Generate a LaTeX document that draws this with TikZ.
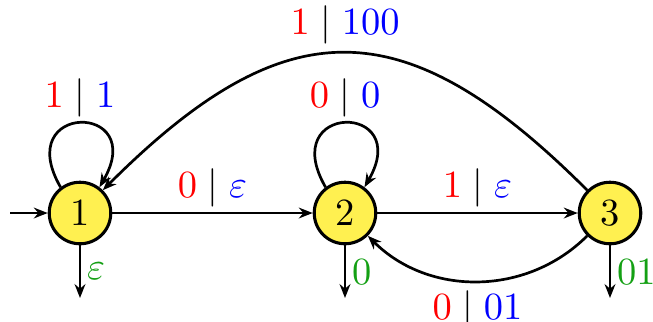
\documentclass[tikz,border=0pt]{standalone}
\usetikzlibrary{arrows.meta}
\definecolor{stfill}{RGB}{255,240,80}
\definecolor{outg}{RGB}{20,160,20}
\definecolor{inr}{RGB}{255,0,0}
\definecolor{outb}{RGB}{0,0,255}
\newcommand{\io}[2]{$\textcolor{inr}{#1}\mid\textcolor{outb}{#2}$}
\begin{document}
\begin{tikzpicture}[x=0.26pt,y=0.26pt,
  state/.style={circle,draw,line width=0.8pt,fill=stfill,minimum size=16pt,inner sep=0pt},
  tr/.style={line width=0.7pt,-{Stealth[length=3.6pt,width=2.8pt]}},
  lab/.style={inner sep=1.3pt},
  outl/.style={text=outg,inner sep=1.5pt,right,pos=0.5}]
\useasboundingbox (0,0) rectangle (653,321);
\node[state] (n1) at (80,108) {1};
\node[state] (n2) at (345,108) {2};
\node[state] (n3) at (610,108) {3};
\coordinate (s) at (10,108);
\coordinate (o1) at (80,23);
\coordinate (o2) at (345,23);
\coordinate (o3) at (610,23);
\draw[tr] (s) -- (n1);
\draw[tr] (n1) -- node[lab,above]{\io{0}{\varepsilon}} (n2);
\draw[tr] (n2) -- node[lab,above]{\io{1}{\varepsilon}} (n3);
\draw[tr] (n1.127) to[out=120,in=60,looseness=6.5] node[lab,above]{\io{1}{1}} (n1.53);
\draw[tr] (n2.127) to[out=120,in=60,looseness=6.5] node[lab,above]{\io{0}{0}} (n2.53);
\draw[tr] (n3) to[bend left=45] node[lab,below,inner sep=2pt]{\io{0}{01}} (n2);
\draw[tr] (n3.135) to[out=135,in=45,looseness=1.37] node[lab,above,inner sep=2pt]{\io{1}{100}} (n1.45);
\draw[tr] (n1) -- node[outl]{$\varepsilon$} (o1);
\draw[tr] (n2) -- node[outl]{$0$} (o2);
\draw[tr] (n3) -- node[outl]{$01$} (o3);
\end{tikzpicture}
\end{document}
